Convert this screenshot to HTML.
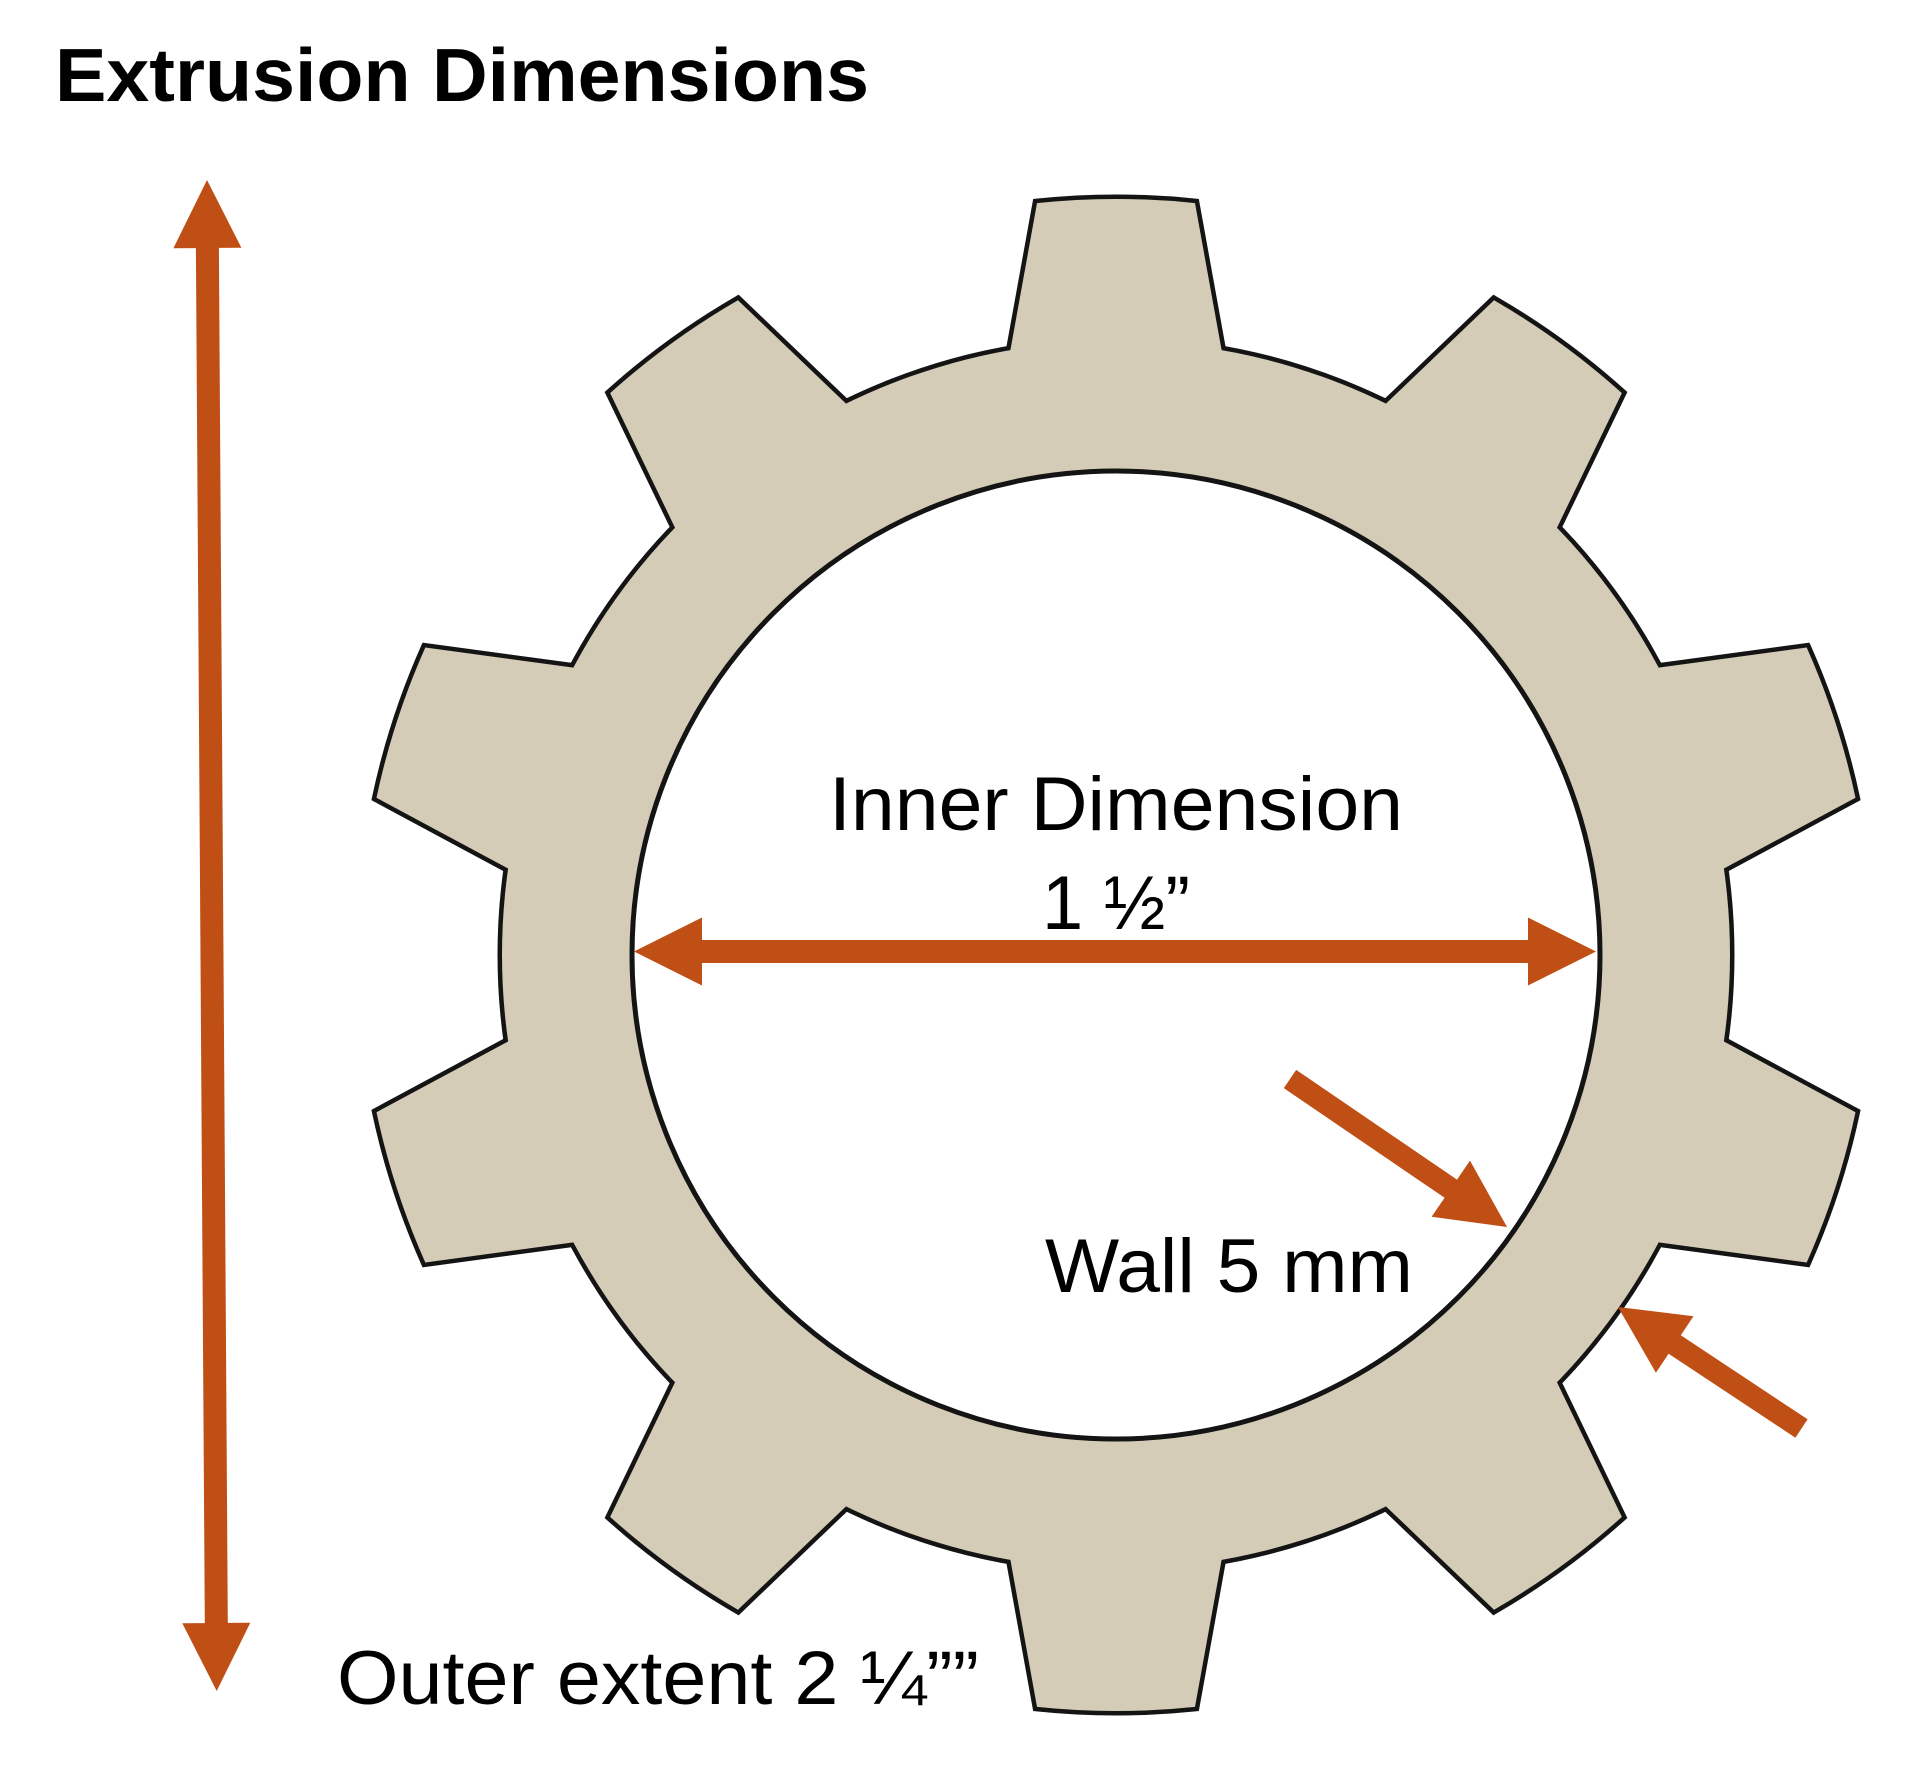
<!DOCTYPE html>
<html>
<head>
<meta charset="utf-8">
<style>
  html, body { margin: 0; padding: 0; background: #ffffff; }
  body { width: 1908px; height: 1778px; overflow: hidden; }
  svg { display: block; }
  .lbl { font-family: "Liberation Sans", "DejaVu Sans", sans-serif; font-size: 76px; fill: #000; }
  .ttl { font-family: "Liberation Sans", "DejaVu Sans", sans-serif; font-size: 75px; font-weight: bold; fill: #000; }
</style>
</head>
<body>
<svg width="1908" height="1778" viewBox="0 0 1908 1778" xmlns="http://www.w3.org/2000/svg">
  <defs>
    <path id="tooth" d="M -110.9 -575.5 L -105.6 -604.9 L -79.0 -751.9 A 756 756 0 0 1 79.0 -751.9 L 105.6 -604.9 L 110.9 -575.5 Z"/>
  </defs>

  <!-- Title -->
  <text class="ttl" x="55" y="101" textLength="814" lengthAdjust="spacingAndGlyphs">Extrusion Dimensions</text>

  <!-- Gear -->
  <g transform="translate(1116,955)">
    <!-- stroked layer -->
    <g fill="#D4CCB6" stroke="#141414" stroke-width="9" stroke-linejoin="miter">
      <circle cx="0" cy="0" r="614"/>
      <use href="#tooth" transform="rotate(0)"/>
      <use href="#tooth" transform="rotate(36)"/>
      <use href="#tooth" transform="rotate(72)"/>
      <use href="#tooth" transform="rotate(108)"/>
      <use href="#tooth" transform="rotate(144)"/>
      <use href="#tooth" transform="rotate(180)"/>
      <use href="#tooth" transform="rotate(216)"/>
      <use href="#tooth" transform="rotate(252)"/>
      <use href="#tooth" transform="rotate(288)"/>
      <use href="#tooth" transform="rotate(324)"/>
    </g>
    <!-- fill layer to hide interior stroke halves -->
    <g fill="#D4CCB6" stroke="none">
      <circle cx="0" cy="0" r="614"/>
      <use href="#tooth" transform="rotate(0)"/>
      <use href="#tooth" transform="rotate(36)"/>
      <use href="#tooth" transform="rotate(72)"/>
      <use href="#tooth" transform="rotate(108)"/>
      <use href="#tooth" transform="rotate(144)"/>
      <use href="#tooth" transform="rotate(180)"/>
      <use href="#tooth" transform="rotate(216)"/>
      <use href="#tooth" transform="rotate(252)"/>
      <use href="#tooth" transform="rotate(288)"/>
      <use href="#tooth" transform="rotate(324)"/>
    </g>
    <!-- inner bore -->
    <circle cx="0" cy="0" r="484" fill="#ffffff" stroke="#141414" stroke-width="5"/>
  </g>

  <!-- Vertical outer-extent arrow -->
  <polygon fill="#C04F15" points="207,180 241.4,247.8 218.9,247.9 227.8,1622.9 250.3,1622.8 216.7,1691 182.3,1623.2 204.8,1623.1 195.9,248.1 173.4,248.2"/>

  <!-- Horizontal inner-dimension arrow -->
  <polygon fill="#C04F15" points="634,951.5 702,917.5 702,940 1528,940 1528,917.5 1596,951.5 1528,985.5 1528,963 702,963 702,985.5"/>

  <!-- Wall arrows -->
  <polygon fill="#C04F15" points="1296.2,1069.9 1457,1179.6 1470,1160.6 1507,1227 1431.6,1216.8 1444.6,1197.8 1283.8,1088.1"/>
  <polygon fill="#C04F15" points="1807.6,1419.3 1680.8,1335.3 1693.5,1316.2 1618,1307 1655.9,1372.8 1668.6,1353.7 1795.4,1437.7"/>

  <!-- Labels -->
  <text class="lbl" x="829" y="830" textLength="574" lengthAdjust="spacingAndGlyphs">Inner Dimension</text>
  <text class="lbl" x="1042" y="929" textLength="148" lengthAdjust="spacingAndGlyphs">1 ½”</text>
  <text class="lbl" x="1045" y="1292" textLength="368" lengthAdjust="spacingAndGlyphs">Wall 5 mm</text>
  <text class="lbl" x="337" y="1704" textLength="642" lengthAdjust="spacingAndGlyphs">Outer extent 2 ¼””</text>
</svg>
</body>
</html>
